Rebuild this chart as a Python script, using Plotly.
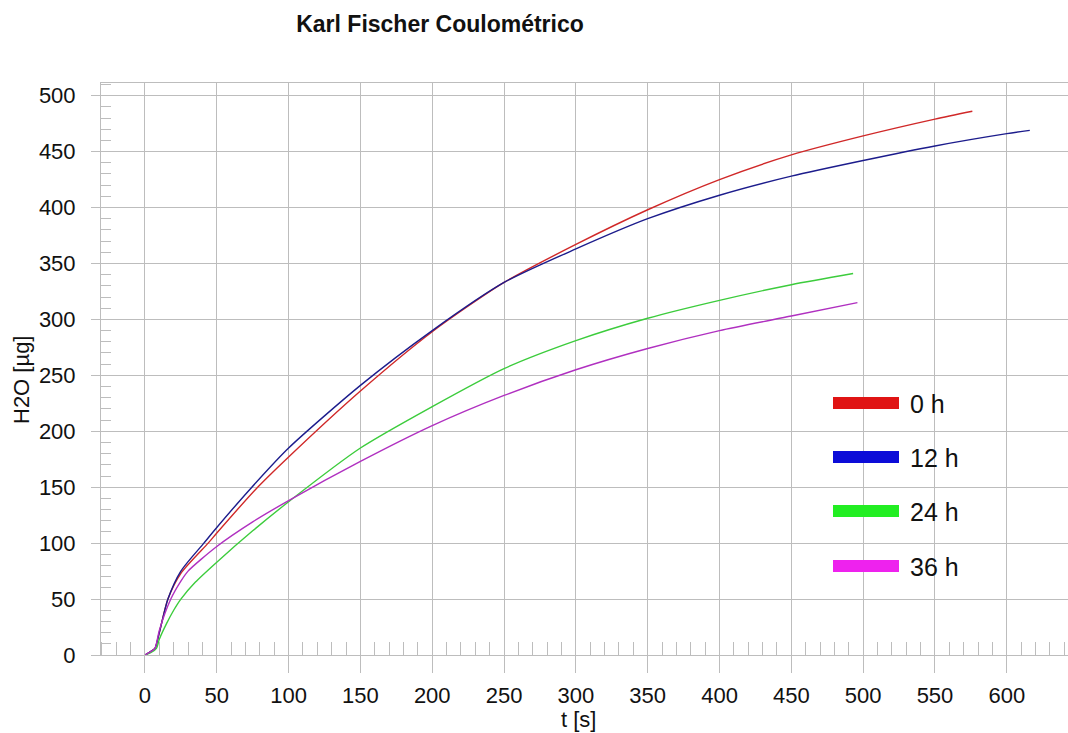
import plotly.graph_objects as go

# Karl Fischer coulometric titration curves: water found vs. time
series_names = ["0 h", "12 h", "24 h", "36 h"]
line_colors = ["#d02828", "#1c1c8c", "#3ccc3c", "#b030c0"]
legend_colors = ["#e01414", "#0c0cd8", "#22ee22", "#ee22ee"]

t_0h = [0, 4, 7, 10, 16, 25, 44, 50, 77, 100, 150, 200, 250, 300, 350, 400, 450, 500, 550, 576]
w_0h = [0, 3, 6, 20, 50, 73, 100, 109, 148, 177, 236, 289, 333, 367, 398, 425, 447, 464, 479, 486]

t_12h = [0, 4, 7, 10, 16, 25, 41, 50, 73, 100, 150, 200, 250, 300, 350, 400, 450, 500, 550, 600, 616]
w_12h = [0, 3, 6, 20, 50, 75, 100, 114, 148, 185, 241, 290, 333, 363, 390, 411, 428, 442, 455, 466, 469]

t_24h = [0, 4, 8, 10, 15, 20, 25, 35, 50, 75, 100, 150, 200, 250, 300, 350, 400, 450, 493]
w_24h = [0, 2, 6, 14, 28, 40, 50, 65, 83, 111, 137, 185, 222, 256, 281, 301, 317, 331, 341]

t_36h = [0, 4, 7, 10, 18, 25, 30, 50, 75, 100, 150, 200, 250, 300, 350, 400, 450, 496]
w_36h = [0, 3, 6, 22, 50, 66, 75, 97, 119, 138, 173, 205, 232, 255, 274, 290, 303, 315]

x_values = [t_0h, t_12h, t_24h, t_36h]
y_values = [w_0h, w_12h, w_24h, w_36h]

x_ticks = list(range(0, 601, 50))
y_ticks = list(range(0, 501, 50))

W, H = 1068, 733
M_L, M_R, M_T, M_B = 101, 0, 83, 78
PLOT_W = W - M_L - M_R
PLOT_H = H - M_T - M_B
FONT = "Liberation Sans, Arial, sans-serif"
GRID = "#bdbdbd"


def paper_x(px):
    return (px - M_L) / PLOT_W


def paper_y(py):
    return (H - M_B - py) / PLOT_H


fig = go.Figure()
for name, xs, ys, col in zip(series_names, x_values, y_values, line_colors):
    fig.add_trace(go.Scatter(
        x=xs, y=ys, name=name, mode="lines",
        line=dict(color=col, width=1.4, shape="spline", smoothing=0.7),
        cliponaxis=False, showlegend=False,
    ))

# hand-drawn legend: thick colour bars with labels
shapes = []
annotations = []
legend_rows = [403, 457, 511, 566]
for name, col, py in zip(series_names, legend_colors, legend_rows):
    shapes.append(dict(
        type="rect", xref="paper", yref="paper",
        x0=paper_x(833), x1=paper_x(899),
        y0=paper_y(py + 6), y1=paper_y(py - 6),
        fillcolor=col, line=dict(width=0), layer="above",
    ))
    annotations.append(dict(
        text=name, xref="paper", yref="paper",
        x=paper_x(908), y=paper_y(py + 1),
        xanchor="left", yanchor="middle", showarrow=False,
        font=dict(family=FONT, size=25, color="#111111"),
    ))

annotations.append(dict(
    text="H2O [µg]", xref="paper", yref="paper",
    x=paper_x(22), y=paper_y(380), textangle=-90,
    xanchor="center", yanchor="middle", showarrow=False,
    font=dict(family=FONT, size=22, color="#111111"),
))
annotations.append(dict(
    text="t [s]", xref="paper", yref="paper",
    x=paper_x(578), y=paper_y(719),
    xanchor="center", yanchor="middle", showarrow=False,
    font=dict(family=FONT, size=22, color="#111111"),
))

fig.update_layout(
    width=W, height=H,
    margin=dict(l=M_L, r=M_R, t=M_T, b=M_B, pad=0),
    paper_bgcolor="white", plot_bgcolor="white",
    title=dict(
        text="<b>Karl Fischer Coulométrico</b>",
        x=440 / W, xanchor="center", xref="container",
        y=1 - 24 / H, yanchor="middle", yref="container",
        font=dict(family=FONT, size=23, color="#111111"),
    ),
    shapes=shapes,
    annotations=annotations,
    xaxis=dict(
        range=[-30.6, 642.6], tickmode="array", tickvals=x_ticks,
        ticks="outside", ticklen=17, tickcolor=GRID, tickwidth=1,
        ticklabelstandoff=4,
        showgrid=True, gridcolor=GRID, gridwidth=1, zeroline=False,
        showline=True, linecolor=GRID, linewidth=1, mirror=True,
        minor=dict(dtick=10, tick0=0, ticks="inside", ticklen=13,
                   tickcolor=GRID, tickwidth=1, showgrid=False),
        tickfont=dict(family=FONT, size=22, color="#111111"),
        fixedrange=True,
    ),
    yaxis=dict(
        range=[0, 511.3], tickmode="array", tickvals=y_ticks,
        ticks="outside", ticklen=9, tickcolor=GRID, tickwidth=1,
        ticklabelstandoff=11,
        showgrid=True, gridcolor=GRID, gridwidth=1, zeroline=False,
        showline=True, linecolor=GRID, linewidth=1, mirror=False,
        minor=dict(dtick=10, tick0=0, ticks="inside", ticklen=10,
                   tickcolor=GRID, tickwidth=1, showgrid=False),
        tickfont=dict(family=FONT, size=22, color="#111111"),
        fixedrange=True,
    ),
    showlegend=False,
)

fig.write_html("out.html")
